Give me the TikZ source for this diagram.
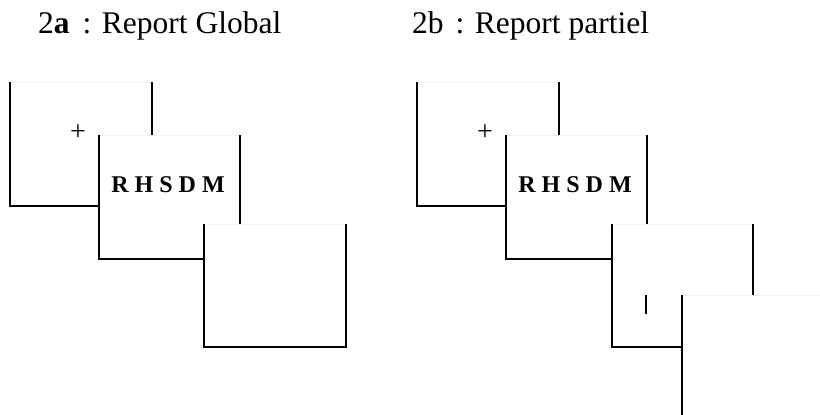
\documentclass[tikz,border=0pt]{standalone}
\usepackage{fontspec}
\setmainfont{Liberation Serif}
\begin{document}
\begin{tikzpicture}[x=1pt,y=-1pt,
screen/.style={line width=1.7pt},
topedge/.style={black!5,line width=0.6pt},
title/.style={anchor=base west,inner sep=0pt,font=\fontsize{31.5}{34}\selectfont},
letters/.style={inner sep=0pt,font=\fontsize{24}{28}\selectfont\bfseries},
fixmark/.style={inner sep=0pt,font=\fontsize{28}{30}\selectfont},
]
    \useasboundingbox (0,0) rectangle (820,415);
    \node [title] (titleA) at (38,33) {2\textbf{a}\hspace{13pt}: Report Global};
    \node [title] (titleB) at (412,33) {2b\hspace{12pt}: Report partiel};
    % screens, back to front
    \foreach \xa/\ya/\xb/\yb in {10/82/152/206, 99/135/240/259, 204/224/346/347,
                                 417/82/559/206, 506/135/647/259, 612/224/753/347, 682/295/830/430}
    {
        \fill [white] (\xa,\ya) rectangle (\xb,\yb);
        \draw [topedge] (\xa,\ya) -- (\xb,\ya);
        \draw [screen] (\xa,\ya) -- (\xa,\yb) -- (\xb,\yb) -- (\xb,\ya);
    }
    \node [fixmark] (fixA) at (78,133) {+};
    \node [letters] (lettersA) at (168,185) {R H S D M};
    \node [fixmark] (fixB) at (485,133) {+};
    \node [letters] (lettersB) at (575,185) {R H S D M};
    \node [inner sep=0pt] (cue) at (646,304) {\rule{2.2pt}{19pt}};
\end{tikzpicture}
\end{document}
